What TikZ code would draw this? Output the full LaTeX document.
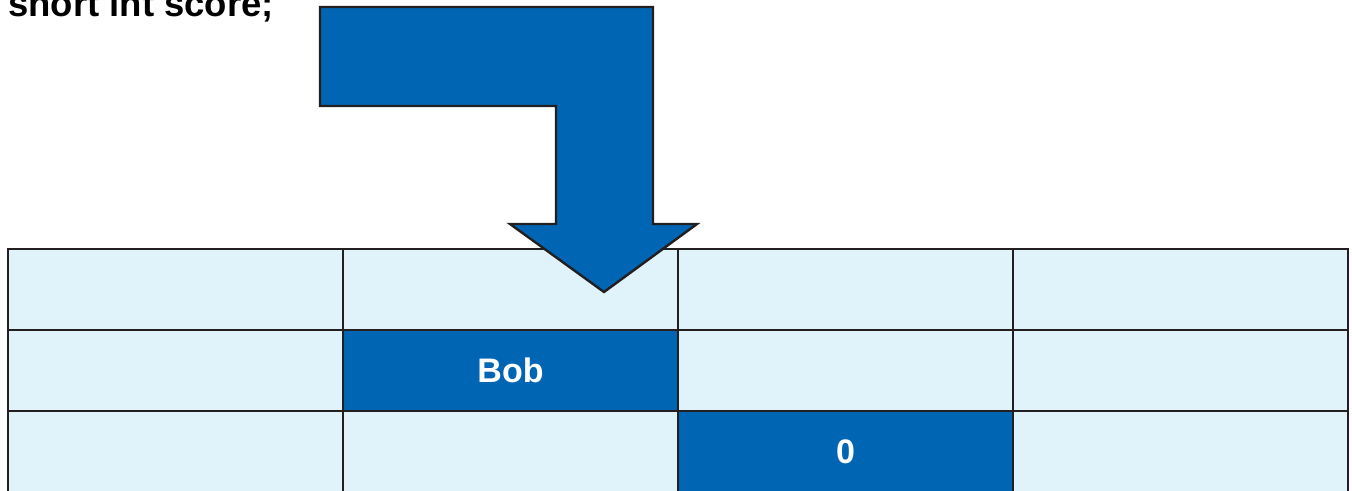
\documentclass[tikz,border=0pt]{standalone}
\usepackage{fontspec}
\setmainfont{Liberation Sans}
\definecolor{memblue}{RGB}{0,102,179}
\definecolor{cellfill}{RGB}{224,242,250}
\definecolor{rule}{RGB}{35,31,32}
\tikzset{
  cell/.style={draw=rule, line width=2.6pt, fill=cellfill, minimum width=335pt,
    minimum height=81pt, inner sep=0pt, outer sep=0pt, anchor=north west},
  usedcell/.style={cell, fill=memblue, text=white,
    font=\bfseries\fontsize{34}{34}\selectfont},
  bigarrow/.style={draw=rule, line width=2.4pt, fill=memblue, line join=miter},
  label/.style={font=\bfseries\fontsize{36.5}{36.5}\selectfont, inner sep=0pt,
    anchor=base west}
}
\begin{document}
\begin{tikzpicture}[x=1pt,y=-1pt]
  \useasboundingbox (0,0) rectangle (1352,490);
  \clip (0,0) rectangle (1352,490);

  % memory grid: four columns, three rows
  \foreach \r/\y in {0/249,1/330,2/411}{
    \foreach \c/\x in {0/8,1/343,2/678,3/1013}{
      \node[cell] (m-\r-\c) at (\x,\y) {};
    }
  }
  % cells holding values
  \node[usedcell] (bob) at (343,330) {Bob};
  \node[usedcell] (zero) at (678,411) {0};

  % declaration
  \node[label] (decl) at (8,16) {short int score;};

  % bent block arrow pointing into the grid
  \draw[bigarrow] (320,7) -- (653,7) -- (653,224) -- (697,224)
    -- (604,292) -- (510,224) -- (556,224) -- (556,106) -- (320,106) -- cycle;
\end{tikzpicture}
\end{document}
